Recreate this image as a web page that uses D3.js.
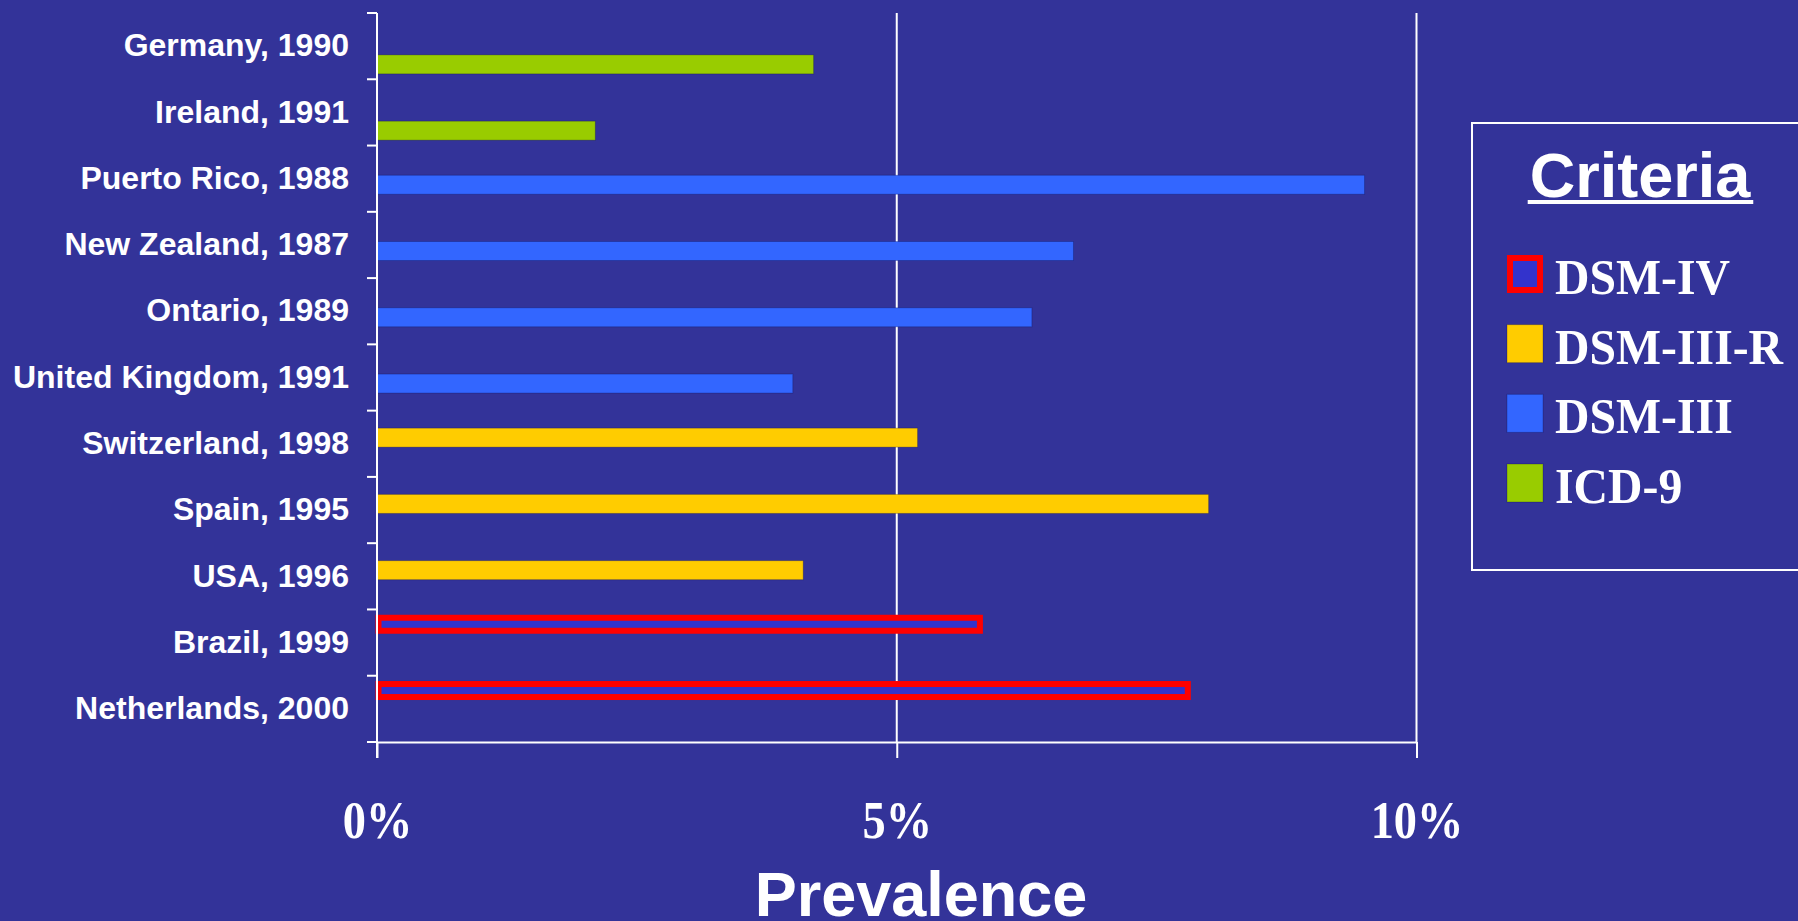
<!DOCTYPE html>
<html>
<head>
<meta charset="utf-8">
<script src="https://cdn.jsdelivr.net/npm/d3@7"></script>
<style>
  html, body { margin: 0; padding: 0; background: #333399; }
  svg { display: block; }
</style>
</head>
<body>
<svg id="chart" width="1798" height="921"></svg>
<script>
// Study sites, top to bottom
const categories = [
  "Germany, 1990", "Ireland, 1991", "Puerto Rico, 1988", "New Zealand, 1987",
  "Ontario, 1989", "United Kingdom, 1991", "Switzerland, 1998", "Spain, 1995",
  "USA, 1996", "Brazil, 1999", "Netherlands, 2000"
];
// Diagnostic criteria used by each study
const criteria = [
  "ICD-9", "ICD-9", "DSM-III", "DSM-III", "DSM-III", "DSM-III",
  "DSM-III-R", "DSM-III-R", "DSM-III-R", "DSM-IV", "DSM-IV"
];
// Prevalence (%)
const prevalence = [4.2, 2.1, 9.5, 6.7, 6.3, 4.0, 5.2, 8.0, 4.1, 5.8, 7.8];
// Legend / series order
const seriesNames = ["DSM-IV", "DSM-III-R", "DSM-III", "ICD-9"];
const seriesColors = ["#3333CC", "#FFCC00", "#3366FF", "#99CC00"];
const xTicks = [0, 5, 10];

const BG = "#333399";
const svg = d3.select("#chart");
svg.append("rect").attr("width", 1798).attr("height", 921).attr("fill", BG);

const plot = { left: 377, right: 1416.5, top: 13, bottom: 742 };

const x = d3.scaleLinear().domain([0, 10]).range([plot.left, plot.right]);
const y = d3.scaleBand().domain(categories).range([plot.top, plot.bottom]).padding(0);
// position of each criteria series inside a category band (clustered bars)
const slot = d3.scalePoint().domain(seriesNames).range([0.08, 0.632]);
const barH = 19;
const color = d3.scaleOrdinal().domain(seriesNames).range(seriesColors);

const data = categories.map((c, i) => ({ cat: c, crit: criteria[i], val: prevalence[i] }));

// vertical gridlines (5%, 10%)
svg.append("g").selectAll("line")
  .data(xTicks.filter(d => d > 0))
  .join("line")
  .attr("x1", d => x(d)).attr("x2", d => x(d))
  .attr("y1", plot.top).attr("y2", plot.bottom)
  .attr("stroke", "#fff").attr("stroke-width", 2);

// x axis
const xAxis = svg.append("g")
  .attr("transform", `translate(0,${plot.bottom})`)
  .call(d3.axisBottom(x).tickValues(xTicks).tickFormat(d => d + "%").tickSize(16).tickSizeOuter(0));
xAxis.select(".domain").attr("stroke", "#fff").attr("stroke-width", 2);
xAxis.selectAll(".tick line").attr("stroke", "#fff").attr("stroke-width", 2);
xAxis.selectAll(".tick text")
  .attr("y", 96).attr("dy", 0)
  .attr("transform", "scale(0.875,1)")
  .attr("fill", "#fff")
  .style("font-family", "'Liberation Serif', 'Times New Roman', serif")
  .style("font-weight", "bold")
  .style("font-size", "53px");

// y axis labels at band centres
const yAxis = svg.append("g")
  .attr("transform", `translate(${plot.left},0)`)
  .call(d3.axisLeft(y).tickSize(0).tickPadding(28));
yAxis.select(".domain").remove();
yAxis.selectAll(".tick text")
  .attr("fill", "#fff")
  .style("font-family", "'Liberation Sans', Arial, sans-serif")
  .style("font-weight", "bold")
  .style("font-size", "32px");

// boundary ticks between categories
const bounds = categories.map(c => y(c)).concat([plot.bottom]);
svg.append("g").selectAll("line")
  .data(bounds)
  .join("line")
  .attr("x1", plot.left - 10).attr("x2", plot.left)
  .attr("y1", d => d).attr("y2", d => d)
  .attr("stroke", "#fff").attr("stroke-width", 2);

// bars
const bars = svg.append("g");
data.forEach(d => {
  const top = y(d.cat) + slot(d.crit) * y.bandwidth();
  if (d.crit === "DSM-IV") {
    bars.append("rect")
      .attr("x", x(0) + 1.5)
      .attr("y", top + 3)
      .attr("width", x(d.val) - x(0) - 1.5)
      .attr("height", barH - 6)
      .attr("fill", color(d.crit))
      .attr("stroke", "#FF0000")
      .attr("stroke-width", 6);
  } else {
    bars.append("rect")
      .attr("x", x(0))
      .attr("y", top)
      .attr("width", x(d.val) - x(0))
      .attr("height", barH)
      .attr("fill", color(d.crit))
      .attr("stroke", "rgba(0,0,60,0.25)")
      .attr("stroke-width", 1);
  }
});

// y axis line, extending down as the 0% tick
svg.append("line")
  .attr("x1", plot.left).attr("x2", plot.left)
  .attr("y1", plot.top).attr("y2", plot.bottom + 16)
  .attr("stroke", "#fff").attr("stroke-width", 2);

// axis title
svg.append("text")
  .attr("x", 921).attr("y", 916)
  .attr("text-anchor", "middle")
  .attr("fill", "#fff")
  .style("font-family", "'Liberation Sans', Arial, sans-serif")
  .style("font-weight", "bold")
  .style("font-size", "63px")
  .text("Prevalence");

// legend
const legend = svg.append("g");
legend.append("rect")
  .attr("x", 1472).attr("y", 123)
  .attr("width", 340).attr("height", 447)
  .attr("fill", "none").attr("stroke", "#fff").attr("stroke-width", 2);

const title = legend.append("text")
  .attr("x", 1640).attr("y", 197)
  .attr("text-anchor", "middle")
  .attr("fill", "#fff")
  .style("font-family", "'Liberation Sans', Arial, sans-serif")
  .style("font-weight", "bold")
  .style("font-size", "63px")
  .text("Criteria");
const tb = title.node().getBBox();
legend.append("rect")
  .attr("x", tb.x - 2).attr("y", 200)
  .attr("width", tb.width + 4).attr("height", 4)
  .attr("fill", "#fff");

const legendY = d3.scalePoint().domain(seriesNames).range([255, 464]);
seriesNames.forEach(s => {
  const ty = legendY(s);
  if (s === "DSM-IV") {
    legend.append("rect")
      .attr("x", 1510).attr("y", ty + 3)
      .attr("width", 30).attr("height", 32)
      .attr("fill", color(s)).attr("stroke", "#FF0000").attr("stroke-width", 6);
  } else {
    legend.append("rect")
      .attr("x", 1507).attr("y", ty)
      .attr("width", 36).attr("height", 38)
      .attr("fill", color(s))
      .attr("stroke", "rgba(0,0,60,0.25)")
      .attr("stroke-width", 1);
  }
  legend.append("text")
    .attr("transform", `translate(1555,${ty + 39}) scale(0.955,1)`)
    .attr("fill", "#fff")
    .style("font-family", "'Liberation Serif', 'Times New Roman', serif")
    .style("font-weight", "bold")
    .style("font-size", "50px")
    .text(s);
});
</script>
</body>
</html>
